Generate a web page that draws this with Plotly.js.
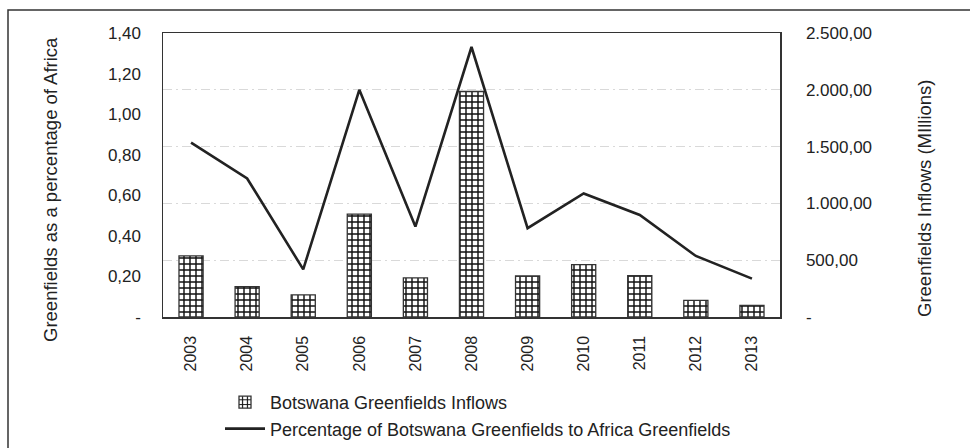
<!DOCTYPE html>
<html>
<head>
<meta charset="utf-8">
<script src="https://cdn.plot.ly/plotly-3.0.1.min.js"></script>
<style>html,body{margin:0;padding:0;background:#fff;}#chart{width:970px;height:448px;}</style>
</head>
<body>
<div id="chart"></div>
<script>
var years = ['2003','2004','2005','2006','2007','2008','2009','2010','2011','2012','2013'];
var inflows = [538, 267, 194, 905, 344, 1985, 361, 461, 363, 147, 103];
var percentages = [0.86, 0.683, 0.235, 1.12, 0.446, 1.331, 0.438, 0.609, 0.503, 0.301, 0.189];
var leftTickVals = [0, 0.2, 0.4, 0.6, 0.8, 1.0, 1.2, 1.4];
var leftTickText = ['-', '0,20', '0,40', '0,60', '0,80', '1,00', '1,20', '1,40'];
var rightTickVals = [0, 500, 1000, 1500, 2000, 2500];
var rightTickText = ['-', '500,00', '1.000,00', '1.500,00', '2.000,00', '2.500,00'];
var leftTitle = 'Greenfields as a percentage of Africa';
var rightTitle = 'Greenfields Inflows (MIllions)';

var W = 970, H = 448, L = 163, R = 190, T = 33, B = 131;
var pw = W - L - R, ph = H - T - B;
function px(x){ return (x - L) / pw; }
function py(y){ return (H - B - y) / ph; }

var font = 'Liberation Sans, Arial, Helvetica, sans-serif';
var ink = '#222222';

var traces = [
  {
    type: 'bar', x: years, y: inflows, yaxis: 'y', xaxis: 'x',
    name: 'Botswana Greenfields Inflows', legendgroup: 'a',
    width: 0.43,
    marker: {
      color: '#ffffff',
      line: {color: '#333333', width: 1.3},
      pattern: {shape: '+', fgcolor: '#111111', bgcolor: '#ffffff', size: 6, solidity: 0.42, fillmode: 'replace'}
    },
    hoverinfo: 'x+y'
  },
  {
    type: 'scatter', mode: 'lines', x: years, y: percentages, yaxis: 'y2', xaxis: 'x',
    name: 'Percentage of Botswana Greenfields to Africa Greenfields', legendgroup: 'b',
    line: {color: ink, width: 2.6}
  }
];

var layout = {
  width: W, height: H,
  margin: {l: L, r: R, t: T, b: B, pad: 0, autoexpand: false},
  paper_bgcolor: '#ffffff', plot_bgcolor: '#ffffff',
  font: {family: font, size: 17, color: ink},
  showlegend: true,
  legend: {
    x: px(220), y: py(384), xanchor: 'left', yanchor: 'top',
    font: {family: font, size: 18, color: ink},
    traceorder: 'grouped', tracegroupgap: 0, itemwidth: 40,
    bgcolor: 'rgba(0,0,0,0)', borderwidth: 0
  },
  xaxis: {
    type: 'category', tickangle: -90,
    tickfont: {family: font, size: 16, color: ink},
    showgrid: false, ticks: '', ticklabelstandoff: 11,
    showline: true, linecolor: '#333333', linewidth: 1.5, mirror: true,
    zeroline: false
  },
  yaxis: {
    side: 'right', range: [0, 2500],
    tickvals: rightTickVals, ticktext: rightTickText,
    tickfont: {family: font, size: 17, color: ink},
    ticks: '', ticklabelstandoff: 21,
    showgrid: true, gridcolor: '#d9d9d9', gridwidth: 1.2, griddash: '9px,4px,2px,4px',
    showline: true, linecolor: '#333333', linewidth: 1.5, mirror: true,
    zeroline: false
  },
  yaxis2: {
    side: 'left', overlaying: 'y', range: [0, 1.4],
    tickvals: leftTickVals, ticktext: leftTickText,
    tickfont: {family: font, size: 17, color: ink},
    ticks: '', ticklabelstandoff: 21,
    showgrid: false, zeroline: false, showline: false
  },
  annotations: [
    {text: leftTitle, xref: 'paper', yref: 'paper', x: px(50), y: py(190), xanchor: 'center', yanchor: 'middle',
     textangle: -90, showarrow: false, font: {family: font, size: 18.5, color: ink}},
    {text: rightTitle, xref: 'paper', yref: 'paper', x: px(924), y: py(198), xanchor: 'center', yanchor: 'middle',
     textangle: -90, showarrow: false, font: {family: font, size: 18.5, color: ink}}
  ],
  shapes: [
    {type: 'rect', xref: 'paper', yref: 'paper', x0: px(8), x1: px(980), y0: py(460), y1: py(10),
     line: {color: '#333333', width: 1.5}, fillcolor: 'rgba(0,0,0,0)', layer: 'below'}
  ]
};

Plotly.newPlot('chart', traces, layout, {displayModeBar: false, staticPlot: true});
</script>
</body>
</html>
